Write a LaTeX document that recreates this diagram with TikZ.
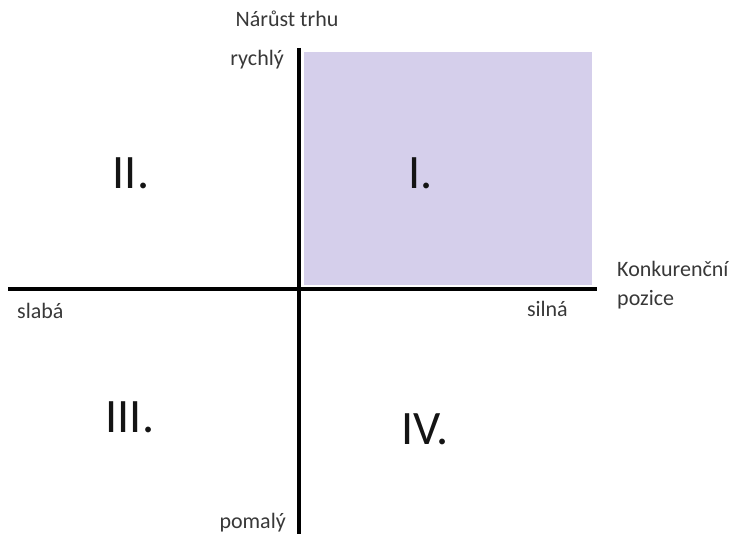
\documentclass[tikz,border=0pt]{standalone}
\usepackage{fontspec}
\setmainfont{Carlito}
\usetikzlibrary{positioning}
\definecolor{Lilac}{HTML}{D5CFEB}
\definecolor{Label}{HTML}{383838}
\definecolor{Numeral}{HTML}{141414}

\begin{document}
\begin{tikzpicture}[x=1pt,y=-1pt,
    axis/.style={line width=4pt,black},
    lbl/.style={inner sep=0pt,text=Label,font=\fontsize{22}{26}\selectfont},
    quad/.style={inner sep=0pt,text=Numeral,font=\fontsize{48}{52}\selectfont,anchor=base}]
      \useasboundingbox (0,0) rectangle (739,534);
      % shaded quadrant
      \fill[Lilac] (304,52) rectangle (592,285);
      % axes
      \coordinate (top) at (299,48);
      \coordinate (bottom) at (299,534);
      \coordinate (left) at (8,289);
      \coordinate (right) at (597,289);
      \draw[axis] (top) -- (bottom);
      \draw[axis] (left) -- (right);
      % axis labels
      \node[lbl,anchor=base] (growth) at (287,27) {Nárůst trhu};
      \node[lbl,anchor=base east] (fast) at (284,66) {rychlý};
      \node[lbl,anchor=base east] (slow) at (286,528) {pomalý};
      \node[lbl,anchor=base west] (weak) at (17,319) {slabá};
      \node[lbl,anchor=base east] (strong) at (568,317) {silná};
      \node[lbl,anchor=base west] (position) at (617,277) {Konkurenční};
      \node[lbl,anchor=base west] (position2) at (617,306) {pozice};
      % quadrant numbers
      \node[quad] (q1) at (421,189) {I.};
      \node[quad] (q2) at (131,189) {II.};
      \node[quad] (q3) at (130,432) {III.};
      \node[quad] (q4) at (425,445) {IV.};
    \end{tikzpicture}
\end{document}
